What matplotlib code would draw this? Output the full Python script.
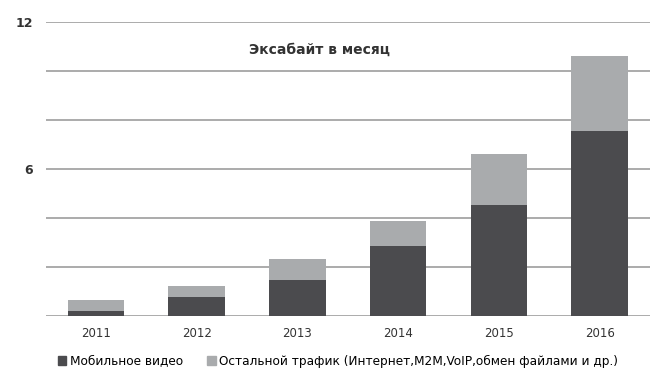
import matplotlib.pyplot as plt
import numpy as np

plt.rcParams['font.family'] = ['Liberation Sans Narrow', 'DejaVu Sans']

years = ["2011", "2012", "2013", "2014", "2015", "2016"]
video = [0.2, 0.78, 1.48, 2.87, 4.55, 7.54]
other = [0.46, 0.45, 0.86, 1.02, 2.05, 3.06]

dark = "#4b4b4e"
light = "#a9abad"

fig = plt.figure(figsize=(6.53, 3.71), dpi=100)
ax = fig.add_axes([45.5 / 653, 55 / 371, 604.5 / 653, 294 / 371])

x = np.arange(len(years))
ax.bar(x, video, width=0.56, color=dark, zorder=3)
ax.bar(x, other, width=0.56, bottom=video, color=light, zorder=3)

ax.set_xlim(-0.5, len(years) - 0.5)
ax.set_ylim(0, 12)
for g in range(0, 13, 2):
    ax.axhline(g, color="#949494", lw=1.1, zorder=1)

ax.set_yticks([6, 12])
ax.set_yticklabels(["6", "12"], fontsize=9, fontweight="bold", color="#333333")
ax.set_xticks(x)
ax.set_xticklabels(years, fontsize=8.5, color="#333333")
ax.tick_params(length=0)
ax.tick_params(axis="y", pad=9)
ax.tick_params(axis="x", pad=8)
for s in ax.spines.values():
    s.set_visible(False)

ax.text(0.453, 0.905, "Эксабайт в месяц", transform=ax.transAxes, ha="center",
        va="center", fontsize=10, fontweight="bold", color="#333333")

handles = [plt.Rectangle((0, 0), 1, 1, color=dark), plt.Rectangle((0, 0), 1, 1, color=light)]
fig.legend(handles, ["Мобильное видео", "Остальной трафик (Интернет,M2M,VoIP,обмен файлами и др.)"],
           loc="center", bbox_to_anchor=(338 / 653, 1 - 361 / 371), ncol=2, frameon=False,
           fontsize=8.7, handlelength=0.7, handleheight=0.7, handletextpad=0.3, columnspacing=2.0)

fig.savefig("out.png", dpi=100, facecolor="white")
